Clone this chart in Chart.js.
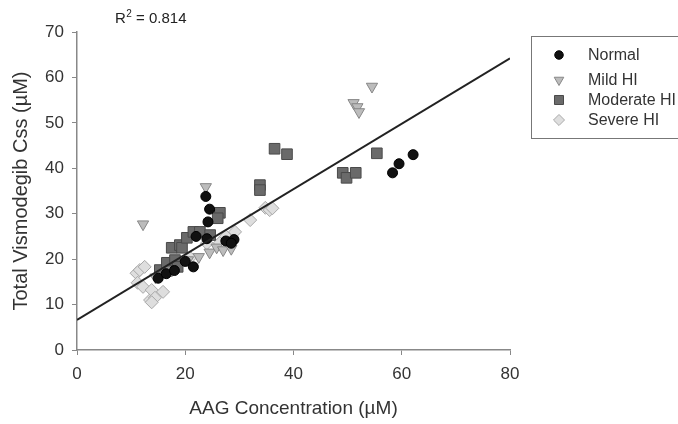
<!DOCTYPE html>
<html><head><meta charset="utf-8">
<script src="https://cdn.jsdelivr.net/npm/chart.js@4"></script>
<style>html,body{margin:0;padding:0;background:#fff}#wrap{width:678px;height:424px}</style>
</head><body><div id="wrap"><canvas id="c" width="678" height="424"></canvas></div>
<script>
const seriesNames = ["Normal", "Mild HI", "Moderate HI", "Severe HI"];
const normalPts = [[15.0,15.8],[16.5,16.8],[18.0,17.5],[20.0,19.5],[21.5,18.3],[22.0,25.0],[23.8,33.8],[24.5,31.0],[24.2,28.2],[24.0,24.5],[27.5,24.0],[29.0,24.3],[28.5,23.5],[58.3,39.0],[59.5,41.0],[62.1,43.0]];
const mildPts = [[12.2,27.7],[23.8,35.9],[14.5,16.0],[17.5,17.5],[20.5,19.8],[22.5,20.5],[24.5,21.5],[25.8,22.6],[27.0,22.0],[28.5,22.3],[51.1,54.4],[51.8,53.5],[52.1,52.4],[54.5,58.0]];
const moderatePts = [[15.3,17.6],[16.6,19.2],[17.5,22.5],[18.1,19.8],[18.6,18.3],[19.0,23.1],[19.4,22.5],[20.3,24.7],[21.5,26.0],[22.7,26.0],[24.6,25.3],[26.4,30.2],[26.0,29.0],[33.8,36.3],[33.8,35.2],[36.5,44.3],[38.8,43.1],[49.1,39.0],[49.8,37.9],[51.5,39.0],[55.4,43.3]];
const severePts = [[11.0,16.9],[11.2,14.8],[11.6,17.6],[12.2,13.9],[12.5,18.3],[13.5,11.0],[13.8,13.2],[14.4,11.5],[15.9,12.8],[13.8,10.5],[20.9,20.3],[24.0,23.5],[26.4,23.6],[27.5,25.0],[29.2,26.0],[32.0,28.6],[34.8,31.3],[35.6,30.8],[36.1,31.2]];
const fitIntercept = 6.6;
const fitSlope = 0.72;
const fitRange = [0, 80];
const r2Prefix = "R";
const r2Sup = "2";
const r2Value = " = 0.814";
const xTitle = "AAG Concentration (µM)";
const yTitle = "Total Vismodegib Css (µM)";

const toXY = a => a.map(p => ({x: p[0], y: p[1]}));
const FONT = "'Liberation Sans', Arial, sans-serif";

const styles = [
  {pointStyle:'circle', radius:5, bg:'#111111', border:'#000000', rot:0},
  {pointStyle:'triangle', radius:6.5, bg:'#bcbcbc', border:'#878787', rot:180},
  {pointStyle:'rect', radius:7.5, bg:'#6a6a6a', border:'#4a4a4a', rot:0},
  {pointStyle:'rectRot', radius:6.5, bg:'#dedede', border:'#a8a8a8', rot:0}
];
const allPts = [normalPts, mildPts, moderatePts, severePts];

const datasets = allPts.map((pts, i) => ({
  type: 'scatter',
  label: seriesNames[i],
  data: toXY(pts),
  pointStyle: styles[i].pointStyle,
  pointRadius: styles[i].radius,
  pointRotation: styles[i].rot,
  backgroundColor: styles[i].bg,
  borderColor: styles[i].border,
  borderWidth: 1,
  order: 2
}));
datasets.push({
  type: 'line',
  label: 'fit',
  data: fitRange.map(x => ({x: x, y: fitIntercept + fitSlope * x})),
  borderColor: '#222222',
  borderWidth: 2,
  pointRadius: 0,
  fill: false,
  order: 1
});

const overlay = {
  id: 'overlay',
  afterDraw(chart) {
    const ctx = chart.ctx;
    ctx.save();
    ctx.fillStyle = '#222';
    ctx.textBaseline = 'alphabetic';
    ctx.textAlign = 'left';
    ctx.font = "15px " + FONT;
    let x = 115;
    ctx.fillText(r2Prefix, x, 23);
    x += ctx.measureText(r2Prefix).width + 0.5;
    ctx.font = "10px " + FONT;
    ctx.fillText(r2Sup, x, 17);
    x += ctx.measureText(r2Sup).width;
    ctx.font = "15px " + FONT;
    ctx.fillText(r2Value, x, 23);
    ctx.strokeStyle = '#777';
    ctx.lineWidth = 1;
    ctx.strokeRect(531.5, 36.5, 160, 102);
    const ys = [55, 80, 100, 120];
    ctx.font = "16px " + FONT;
    ctx.textBaseline = 'middle';
    for (let i = 0; i < 4; i++) {
      const s = styles[i];
      ctx.fillStyle = s.bg;
      ctx.strokeStyle = s.border;
      ctx.lineWidth = 1;
      Chart.helpers.drawPoint(ctx, {pointStyle: s.pointStyle, radius: s.radius * 0.85, rotation: s.rot, borderWidth: 1}, 559, ys[i]);
      ctx.fillStyle = '#333';
      ctx.fillText(seriesNames[i], 588, ys[i] + 1);
    }
    ctx.restore();
  }
};

new Chart(document.getElementById('c'), {
  data: {datasets},
  options: {
    responsive: false,
    animation: false,
    layout: {padding: {left: 0, top: 32, right: 168, bottom: 0}},
    plugins: {legend: {display: false}, tooltip: {enabled: false}},
    scales: {
      x: {
        type: 'linear', min: 0, max: 80,
        ticks: {stepSize: 20, color: '#333', font: {size: 17, family: FONT}, padding: 9},
        grid: {drawOnChartArea: false, color: '#888', tickLength: 5},
        border: {color: '#888', width: 1.5},
        title: {display: true, text: xTitle, color: '#333', font: {size: 19, family: FONT}, padding: {top: 0, bottom: 4}},
        afterFit(s) { s.height = 74; }
      },
      y: {
        type: 'linear', min: 0, max: 70,
        ticks: {stepSize: 10, color: '#333', font: {size: 17, family: FONT}, padding: 8},
        grid: {drawOnChartArea: false, color: '#888', tickLength: 5},
        border: {color: '#888', width: 1.5},
        title: {display: true, text: yTitle, color: '#333', font: {size: 20, family: FONT}, padding: {top: 9, bottom: 0}},
        afterFit(s) { s.width = 77; }
      }
    }
  },
  plugins: [overlay]
});
</script></body></html>
